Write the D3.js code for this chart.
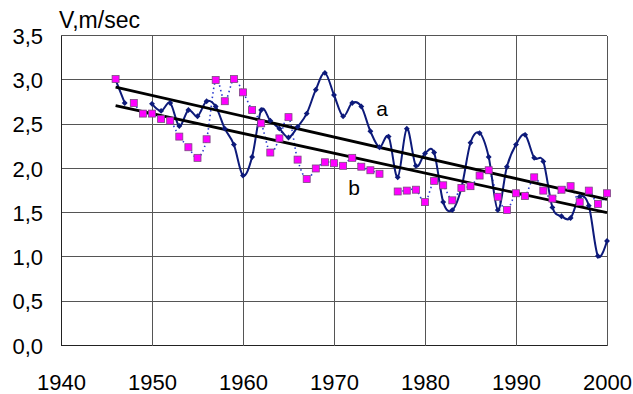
<!DOCTYPE html>
<html><head><meta charset="utf-8">
<script src="https://cdn.jsdelivr.net/npm/d3@7/dist/d3.min.js"></script>
<style>body{margin:0;background:#fff}svg{display:block;font-family:"Liberation Sans",Arial,sans-serif}</style>
</head><body><svg id="c" width="633" height="394"></svg>
<script>
const years = d3.range(1946, 2001);
// series a (solid navy, diamonds); null = gap
const seriesA = [3.00,2.74,null,null,2.73,2.65,2.74,2.48,2.66,2.59,2.76,2.70,2.45,2.27,1.92,2.13,2.66,2.54,2.45,2.35,2.47,2.62,2.89,3.08,2.83,2.59,2.74,2.70,2.42,2.24,2.36,1.90,2.45,2.03,2.17,2.18,1.62,1.53,1.78,2.29,2.40,2.13,1.53,2.02,2.27,2.38,2.12,2.08,1.56,1.46,1.44,1.68,1.58,1.01,1.18];
// series b (magenta squares, dotted)
const seriesB = [3.01,null,2.74,2.62,2.62,2.56,2.54,2.36,2.24,2.12,2.33,3.00,2.76,3.01,2.86,2.66,2.51,2.18,2.34,2.58,2.10,1.88,2.00,2.07,2.06,2.03,2.12,2.02,1.98,1.94,null,1.74,1.75,1.76,1.62,1.86,1.81,1.64,1.78,1.80,1.92,1.98,1.68,1.53,1.72,1.69,1.90,1.75,1.66,1.76,1.80,1.62,1.75,1.60,1.72];
const trendYears = [1946, 2000];
const trendA = [2.92, 1.65];
const trendB = [2.71, 1.50];
const xTicks = [1940,1950,1960,1970,1980,1990,2000];
const yTicks = [0,0.5,1,1.5,2,2.5,3,3.5];
const yLabel = "V,m/sec";

const svg = d3.select("#c");
const x = d3.scaleLinear().domain([1940,2000]).range([61,607]);
const y = d3.scaleLinear().domain([0,3.5]).range([345.5,35.7]);
const fmt = v => d3.format(".1f")(v).replace(".", ",");

// grid
svg.append("g").selectAll("line").data(yTicks).join("line")
  .attr("x1",x(1940)).attr("x2",x(2000)).attr("y1",d=>y(d)).attr("y2",d=>y(d))
  .attr("stroke",d=>d===0?"#222":"#555").attr("stroke-width",1).attr("shape-rendering","crispEdges");
svg.append("g").selectAll("line").data(xTicks).join("line")
  .attr("y1",y(0)).attr("y2",y(3.5)).attr("x1",d=>x(d)).attr("x2",d=>x(d))
  .attr("stroke",d=>d===1940?"#222":"#555").attr("stroke-width",1).attr("shape-rendering","crispEdges");

// axis labels
const yAxis = d3.axisLeft(y).tickValues(yTicks).tickFormat(fmt).tickSize(0).tickPadding(0);
const gy = svg.append("g").attr("transform","translate(43,0)").call(yAxis);
gy.select(".domain").remove();
gy.selectAll("text").attr("font-size",22).attr("fill","#000").attr("font-family","Liberation Sans, Arial, sans-serif").attr("dy","0.35em");

const xAxis = d3.axisBottom(x).tickValues(xTicks).tickFormat(d3.format("d")).tickSize(0).tickPadding(0);
const gx = svg.append("g").attr("transform","translate(0,373)").call(xAxis);
gx.select(".domain").remove();
gx.selectAll("text").attr("font-size",22).attr("fill","#000").attr("font-family","Liberation Sans, Arial, sans-serif").attr("dy","0.75em");

svg.append("text").attr("x",59).attr("y",28).attr("font-size",23).text(yLabel);

const curve = d3.curveCardinal.tension(0);
const dataA = years.map((yr,i)=>({yr,v:seriesA[i]}));
const dataB = years.map((yr,i)=>({yr,v:seriesB[i]}));

// series b dotted
svg.append("path").datum(dataB)
  .attr("d", d3.line().defined(d=>d.v!=null).x(d=>x(d.yr)).y(d=>y(d.v)).curve(curve))
  .attr("fill","none").attr("stroke","#2a3bd0").attr("stroke-width",1.6).attr("stroke-dasharray","1.5,3");

// series a solid
svg.append("path").datum(dataA)
  .attr("d", d3.line().defined(d=>d.v!=null).x(d=>x(d.yr)).y(d=>y(d.v)).curve(curve))
  .attr("fill","none").attr("stroke","#0d1a7a").attr("stroke-width",2);

// trend lines
[trendA, trendB].forEach(t=>{
  svg.append("line").attr("x1",x(trendYears[0])).attr("x2",x(trendYears[1]))
    .attr("y1",y(t[0])).attr("y2",y(t[1])).attr("stroke","#000").attr("stroke-width",2.8);
});

// diamonds
svg.append("g").selectAll("path").data(dataA.filter(d=>d.v!=null)).join("path")
  .attr("d", d3.symbol(d3.symbolDiamond2, 22))
  .attr("transform",d=>`translate(${x(d.yr)},${y(d.v)})`).attr("fill","#0d1a7a");

// squares
svg.append("g").selectAll("rect").data(dataB.filter(d=>d.v!=null)).join("rect")
  .attr("x",d=>x(d.yr)-3.5).attr("y",d=>y(d.v)-3.5).attr("width",7).attr("height",7)
  .attr("fill","#ff00ff").attr("stroke","#7a4a80").attr("stroke-width",0.8);

svg.append("text").attr("x",382).attr("y",116).attr("font-size",21).attr("text-anchor","middle").text("a");
svg.append("text").attr("x",354).attr("y",195).attr("font-size",21).attr("text-anchor","middle").text("b");
</script></body></html>
